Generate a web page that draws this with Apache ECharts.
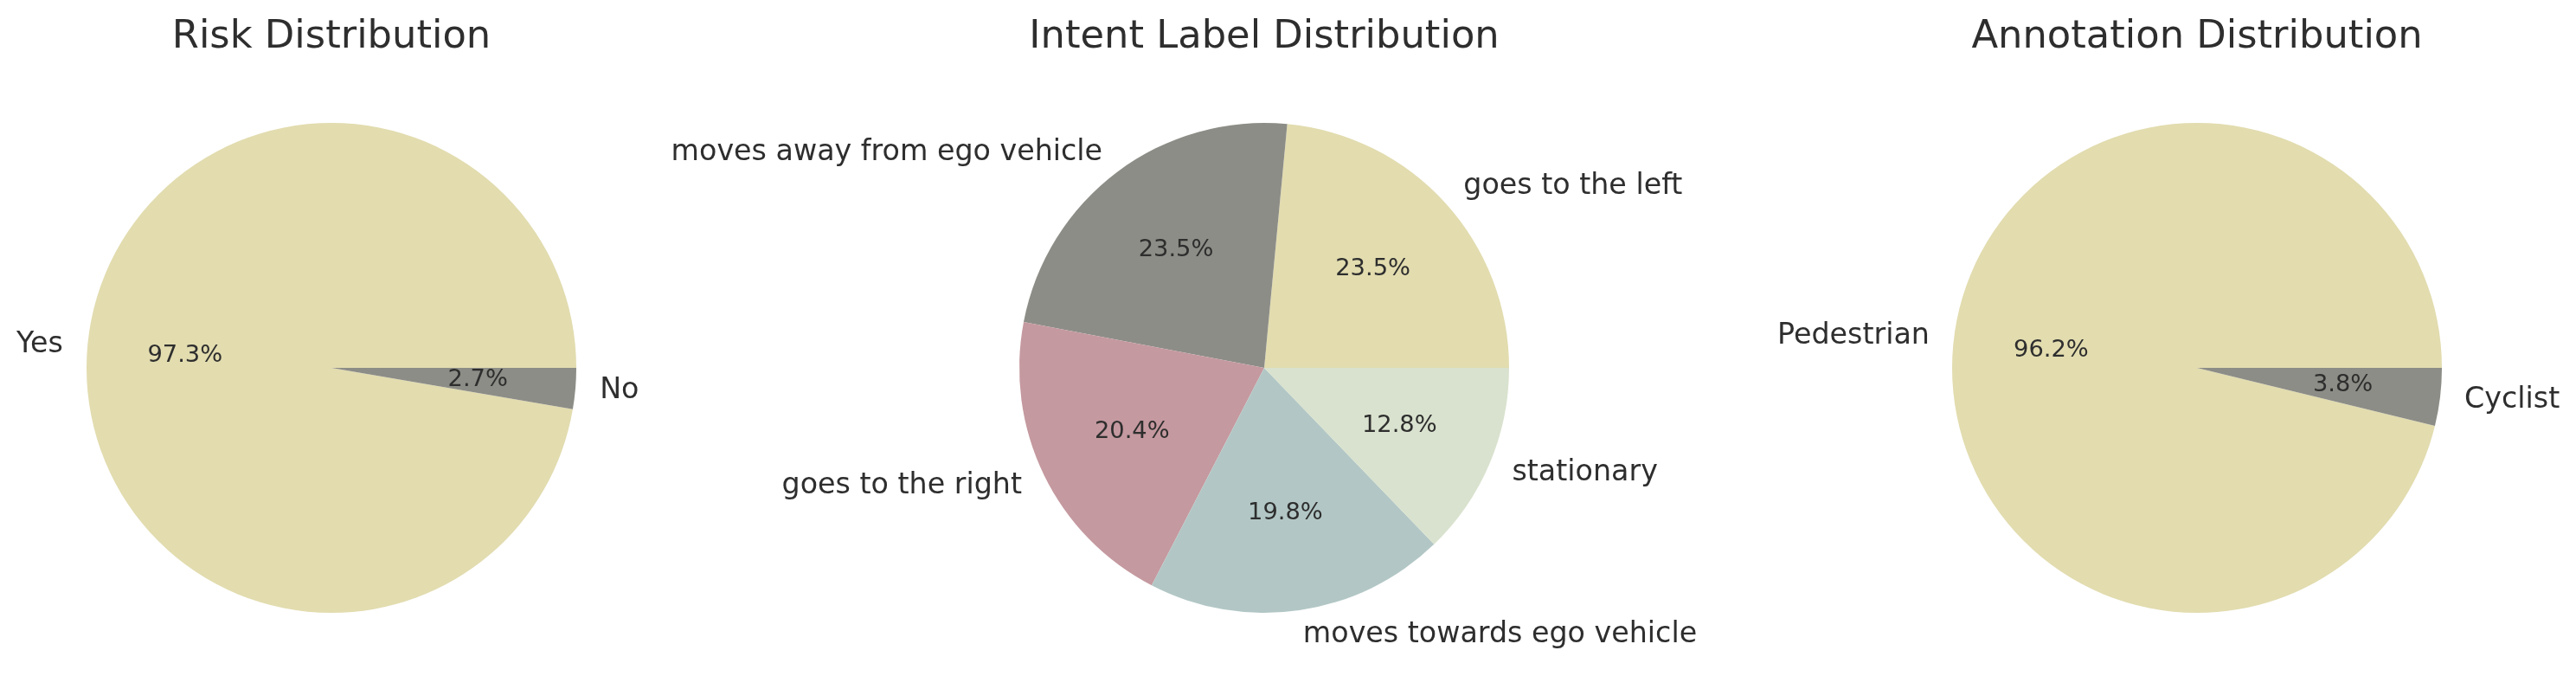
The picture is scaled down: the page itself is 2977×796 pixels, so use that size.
<!DOCTYPE html>
<html>
<head>
<meta charset="utf-8">
<script src="https://cdn.jsdelivr.net/npm/echarts@6/dist/echarts.min.js"></script>
<style>
html,body{margin:0;padding:0;background:#fff;}
#chart{width:2977px;height:796px;}
</style>
</head>
<body>
<div id="chart"></div>
<script>
// ---- data ----
const titles = ['Risk Distribution', 'Intent Label Distribution', 'Annotation Distribution'];

const riskLabels = ['Yes', 'No'];
const riskValues = [97.3, 2.7];

const intentLabels = ['goes to the left', 'moves away from ego vehicle', 'goes to the right', 'moves towards ego vehicle', 'stationary'];
const intentValues = [23.5, 23.5, 20.4, 19.8, 12.8];

const annotLabels = ['Pedestrian', 'Cyclist'];
const annotValues = [96.2, 3.8];

const palette = ['#E2DCAF', '#8D8D87', '#C4999F', '#B2C7C5', '#D9E2CE'];

// ---- layout ----
const FONT = 'DejaVu Sans';
const TEXT = '#2e2e2e';
const R = 283;
const CY = 425;
const centersX = [383, 1461, 2539];

const pies = [
  [riskLabels, riskValues],
  [intentLabels, intentValues],
  [annotLabels, annotValues]
];

const series = [];
pies.forEach(([labels, values], i) => {
  const data = labels.map((n, k) => ({ name: n, value: values[k], itemStyle: { color: palette[k] } }));
  series.push({
    type: 'pie',
    center: [centersX[i], CY],
    radius: [0, R],
    startAngle: 0,
    clockwise: false,
    avoidLabelOverlap: false,
    silent: true,
    animation: false,
    itemStyle: { borderWidth: 0 },
    emphasis: { disabled: true },
    label: {
      show: true,
      position: 'outside',
      formatter: '{b}',
      color: TEXT,
      fontFamily: FONT,
      fontSize: 33.3,
      overflow: 'none',
      distanceToLabelLine: 0,
      rotate: 0
    },
    labelLine: { show: false, length: R * 0.1, length2: 0 },
    data: data
  });
  series.push({
    type: 'pie',
    center: [centersX[i], CY],
    radius: [2 * (0.6 * R - 3) - R, R],
    startAngle: 0,
    clockwise: false,
    avoidLabelOverlap: false,
    silent: true,
    animation: false,
    itemStyle: { color: 'rgba(0,0,0,0)', borderWidth: 0 },
    emphasis: { disabled: true },
    label: {
      show: true,
      position: 'inside',
      rotate: 0,
      formatter: p => p.percent.toFixed(1) + '%',
      color: TEXT,
      fontFamily: FONT,
      fontSize: 27.3
    },
    labelLine: { show: false },
    data: labels.map((n, k) => ({ name: n, value: values[k] }))
  });
});

const chart = echarts.init(document.getElementById('chart'), null, { renderer: 'canvas' });
chart.setOption({
  backgroundColor: '#ffffff',
  animation: false,
  title: titles.map((t, i) => ({
    text: t,
    left: centersX[i],
    top: 21,
    padding: 0,
    textAlign: 'center',
    textStyle: { fontFamily: FONT, fontSize: 44.8, fontWeight: 'normal', color: TEXT }
  })),
  series: series
});
</script>
</body>
</html>
